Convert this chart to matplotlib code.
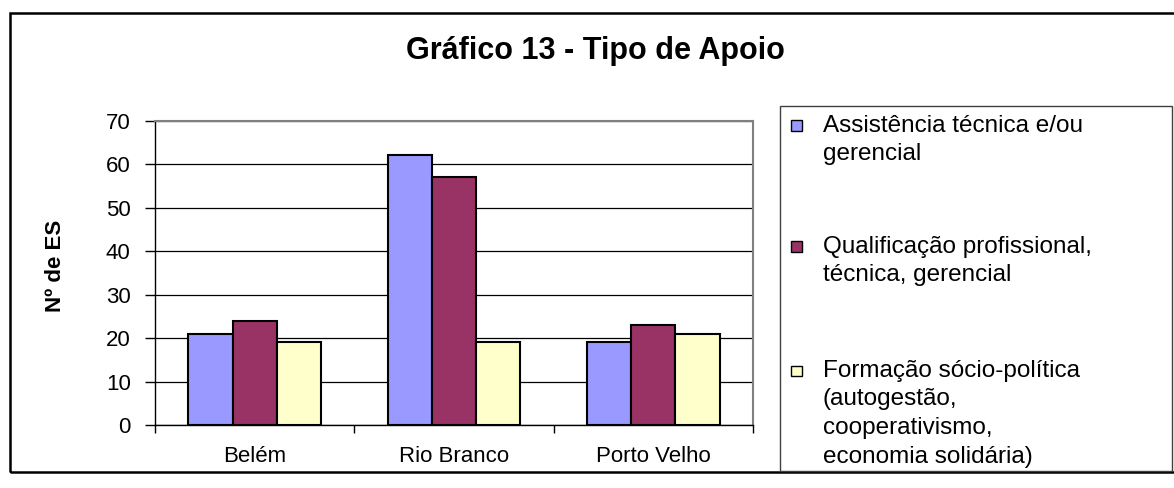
import numpy as np
import matplotlib.pyplot as plt
from matplotlib.patches import Rectangle

plt.rcParams['font.family'] = ['Liberation Sans', 'DejaVu Sans']

cities = ["Belém", "Rio Branco", "Porto Velho"]
series_names = [
    "Assistência técnica e/ou\ngerencial",
    "Qualificação profissional,\ntécnica, gerencial",
    "Formação sócio-política\n(autogestão,\ncooperativismo,\neconomia solidária)",
]
assistencia = [21, 62, 19]
qualificacao = [24, 57, 23]
formacao = [19, 19, 21]
colors = ["#9999FF", "#993366", "#FFFFCC"]

W, H = 1174, 488


def fx(px):
    return px / W


def fy(py):
    return 1 - py / H


fig = plt.figure(figsize=(W / 100, H / 100), dpi=100)

# outer chart border
fig.patches.append(Rectangle((fx(9.5), fy(472)), fx(1180) - fx(9.5), fy(13) - fy(472),
                             transform=fig.transFigure, fill=False, ec="black", lw=1.8))

ax = fig.add_axes([fx(155), fy(425), fx(753) - fx(155), fy(120.7) - fy(425)])

x = np.arange(len(cities))
w = 0.222
for i, vals in enumerate([assistencia, qualificacao, formacao]):
    ax.bar(x + (i - 1) * w, vals, w, color=colors[i], edgecolor="black", lw=1.5, zorder=3)

ax.set_xlim(-0.5, 2.5)
ax.set_ylim(0, 70)
ax.set_yticks(range(0, 71, 10))
ax.yaxis.grid(True, color="black", lw=0.9, zorder=0)
ax.set_axisbelow(True)

ax.set_xticks(x)
ax.set_xticklabels(cities)
ax.set_xticks([-0.5, 0.5, 1.5, 2.5], minor=True)
ax.tick_params(axis="x", which="major", length=0, pad=15, labelsize=16)
ax.tick_params(axis="x", which="minor", length=5.5, width=1, direction="out")
ax.tick_params(axis="y", length=7.5, width=1, pad=10, labelsize=16)

for s in ["left", "bottom"]:
    ax.spines[s].set_color("black")
    ax.spines[s].set_linewidth(1)
for s in ["top", "right"]:
    ax.spines[s].set_color("#808080")
    ax.spines[s].set_linewidth(1.5)

fig.text(fx(55.5), fy(266), "Nº de ES", rotation=90, ha="center", va="center",
         fontsize=16, fontweight="bold")
fig.text(fx(595), fy(51), "Gráfico 13 - Tipo de Apoio", ha="center", va="center",
         fontsize=22, fontweight="bold")

# legend box
fig.patches.append(Rectangle((fx(780), fy(471)), fx(1171.7) - fx(780), fy(106) - fy(471),
                             transform=fig.transFigure, fill=False, ec="#404040", lw=1))
first_baselines = [131.7, 253, 377]
line_gap = 28.5
for name, col, base in zip(series_names, colors, first_baselines):
    fig.patches.append(Rectangle((fx(791), fy(base - 1)), fx(802) - fx(791), fy(base - 11.5) - fy(base - 1),
                                 transform=fig.transFigure, fc=col, ec="black", lw=1))
    for j, line in enumerate(name.split("\n")):
        fig.text(fx(823), fy(base + j * line_gap), line, ha="left", va="baseline", fontsize=17.5)

fig.savefig("out.png", dpi=100)
